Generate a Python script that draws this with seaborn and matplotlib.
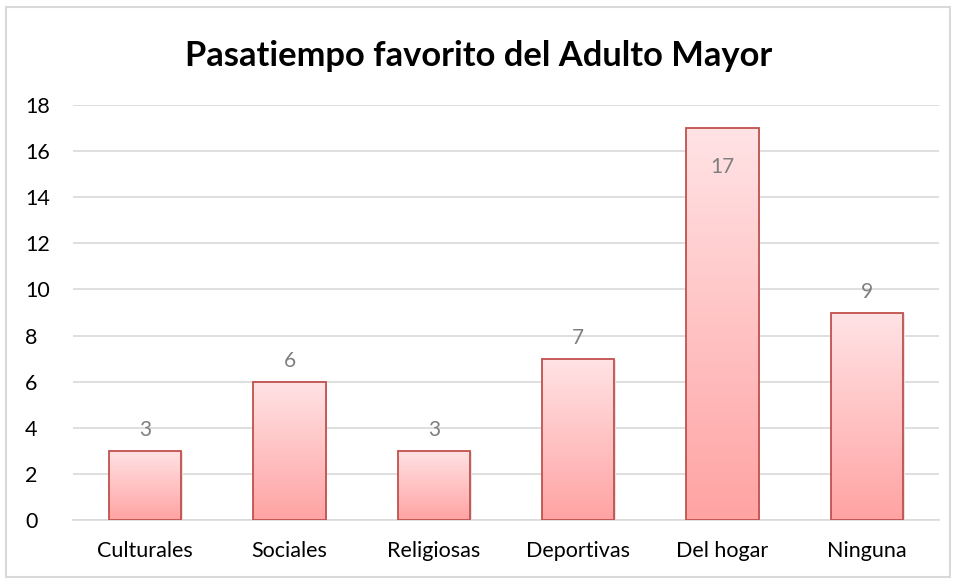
from matplotlib import pyplot as plt
from matplotlib.patches import Rectangle
import numpy as np
import pandas as pd
import seaborn as sns

categorias = ['Culturales', 'Sociales', 'Religiosas', 'Deportivas', 'Del hogar', 'Ninguna']
valores = [3, 6, 3, 7, 17, 9]
y_ticks = [0, 2, 4, 6, 8, 10, 12, 14, 16, 18]

df = pd.DataFrame({'Pasatiempo': categorias, 'Cantidad': valores})

sns.set_style('white')
plt.rcParams['font.family'] = ['Lato', 'DejaVu Sans']

f = plt.figure(figsize=(9.64, 5.84), dpi=100)
ax = f.add_axes([73 / 964, 64 / 584, 866 / 964, 415 / 584])

ax = sns.barplot(x='Pasatiempo', y='Cantidad', data=df, ax=ax, width=0.5,
                 color='#ffc0c0', edgecolor='#c0504d', linewidth=1.3, zorder=3)

# degradado dentro de cada barra
grad = np.linspace(0, 1, 256).reshape(-1, 1)
cmap = sns.blend_palette(['#ffa3a3', '#ffe3e5'], as_cmap=True)
for p in ax.patches:
    x0, y0 = p.get_x(), p.get_y()
    w, h = p.get_width(), p.get_height()
    # sombra suave
    ax.add_patch(Rectangle((x0 + 0.012, y0), w, h - 0.06, facecolor='#e4e4e4',
                           edgecolor='none', zorder=2))
    im = ax.imshow(grad, extent=[x0, x0 + w, y0, y0 + h], origin='lower',
                   cmap=cmap, aspect='auto', zorder=3.5)
    im.set_clip_path(p)
    p.set_zorder(4)
    p.set_facecolor('none')

for i, v in enumerate(valores):
    if v >= 16:
        ax.text(i, v - 1.25, str(v), ha='center', va='top', fontsize=15, color='#7f7f7f', zorder=5)
    else:
        ax.text(i, v + 0.45, str(v), ha='center', va='bottom', fontsize=15, color='#7f7f7f', zorder=5)

ax.set_ylim(0, 18)
ax.set_xlim(-0.5, len(categorias) - 0.5)
ax.set_yticks(y_ticks)
ax.yaxis.grid(True, color='#d9d9d9', linewidth=1.2, zorder=0)
ax.set_axisbelow(True)
ax.set_xlabel('')
ax.set_ylabel('')
for s in ['top', 'right', 'left']:
    ax.spines[s].set_visible(False)
ax.spines['bottom'].set_color('#d9d9d9')
ax.spines['bottom'].set_linewidth(1.2)
ax.tick_params(axis='both', length=0, labelsize=15.5, colors='black')
ax.tick_params(axis='x', pad=15)
ax.tick_params(axis='y', pad=34.5)
for lbl in ax.get_yticklabels():
    lbl.set_horizontalalignment('left')

f.text(479 / 964, 1 - 56 / 584, 'Pasatiempo favorito del Adulto Mayor', ha='center', va='center',
       fontsize=24.8, fontweight='bold', color='black')

f.patches.append(Rectangle((6 / 964, 7 / 584), 944 / 964, 570 / 584, transform=f.transFigure,
                           facecolor='none', edgecolor='#d9d9d9', linewidth=1.5))

f.savefig('out.png', dpi=100)
